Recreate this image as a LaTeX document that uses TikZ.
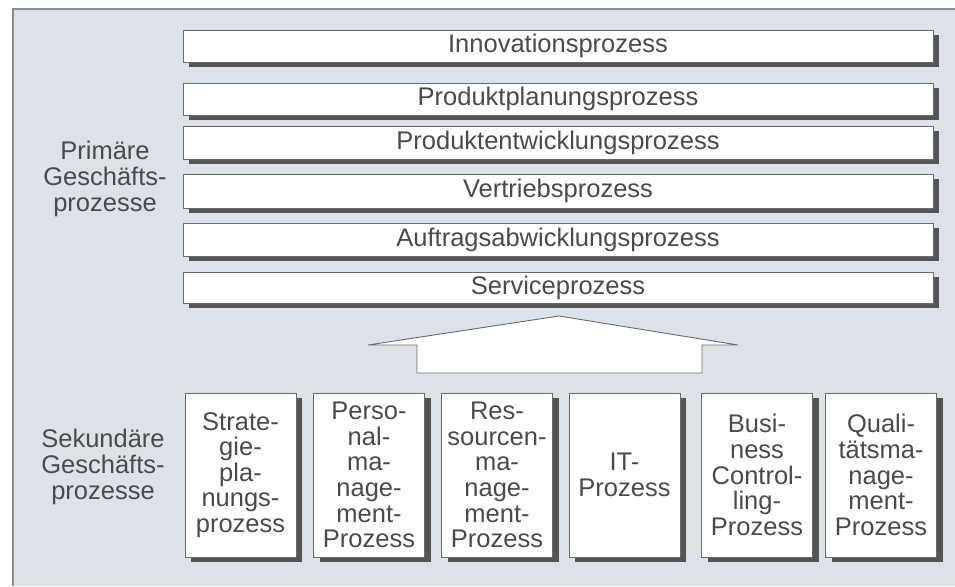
\documentclass[tikz,border=0pt]{standalone}
\usepackage{fontspec}
\setmainfont{Liberation Sans}
\usetikzlibrary{shadows}
\definecolor{bg}{HTML}{DDE2E9}
\definecolor{frame}{HTML}{8C8C8C}
\definecolor{boxline}{HTML}{6A6A6A}
\definecolor{shade}{HTML}{555555}
\definecolor{txt}{HTML}{4A4A4A}
\tikzset{
  procfont/.style={font=\fontsize{25.5}{25.6}\selectfont, text=txt},
  shadowed/.style={drop shadow={shadow xshift=6pt, shadow yshift=-5pt, opacity=1, fill=shade}},
  pbox/.style={procfont, draw=boxline, line width=0.9pt, fill=white, shadowed,
    minimum width=750pt, inner sep=0pt},
  sbox/.style={procfont, draw=boxline, line width=0.9pt, fill=white, shadowed,
    minimum width=111pt, minimum height=164pt, inner sep=0pt, align=center},
  sidelabel/.style={procfont, align=center, inner sep=0pt},
  bigarrow/.style={draw=boxline, line width=0.9pt, fill=white, line join=miter}
}
\begin{document}
\begin{tikzpicture}[x=1pt, y=-1pt]
\useasboundingbox (0,0) rectangle (955,586);
\fill[bg] (13,9) rectangle (955,586);
\draw[frame, line width=1.2pt] (13,586) -- (13,9) -- (955,9);

% primary processes
\node[pbox, minimum height=32pt] (inno) at (558,46) {Innovationsprozess};
\node[pbox, minimum height=32pt] (plan) at (558,99) {Produktplanungsprozess};
\node[pbox, minimum height=33pt] (entw) at (558,142.5) {Produktentwicklungsprozess};
\node[pbox, minimum height=34pt] (vert) at (558,191) {Vertriebsprozess};
\node[pbox, minimum height=33pt] (auft) at (558,239.5) {Auftragsabwicklungsprozess};
\node[pbox, minimum height=31pt] (serv) at (558,287.5) {Serviceprozess};

\node[sidelabel] (prim) at (105,179) {Primäre\\Geschäfts-\\prozesse};

% arrow
\draw[bigarrow] (417,373) -- (417,345) -- (368,345) -- (559,316) -- (738,345)
  -- (702,345) -- (702,373) -- cycle;

% secondary processes
\node[sbox] (strat) at (240.5,475) {Strate-\\gie-\\pla-\\nungs-\\prozess};
\node[sbox] (pers) at (369,475) {Perso-\\nal-\\ma-\\nage-\\ment-\\Prozess};
\node[sbox] (ress) at (497,475) {Res-\\sourcen-\\ma-\\nage-\\ment-\\Prozess};
\node[sbox] (it) at (624.5,475) {IT-\\Prozess};
\node[sbox] (bus) at (757,475) {Busi-\\ness\\Control-\\ling-\\Prozess};
\node[sbox] (qual) at (881,475) {Quali-\\tätsma-\\nage-\\ment-\\Prozess};

\node[sidelabel] (sek) at (103,467) {Sekundäre\\Geschäfts-\\prozesse};
\end{tikzpicture}
\end{document}
